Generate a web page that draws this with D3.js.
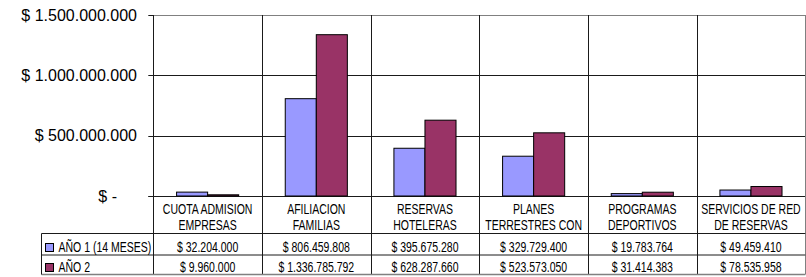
<!DOCTYPE html>
<html>
<head>
<meta charset="utf-8">
<script src="https://cdn.jsdelivr.net/npm/d3@7"></script>
<style>
	body{margin:0;background:#fff;}
	svg{display:block;font-family:"Liberation Sans",Arial,sans-serif;}
</style>
</head>
<body>
<svg id="chart" width="806" height="277"></svg>
<script>
//chart data
var categories = [
	["CUOTA ADMISION", "EMPRESAS"],
	["AFILIACION", "FAMILIAS"],
	["RESERVAS", "HOTELERAS"],
	["PLANES", "TERRESTRES CON"],
	["PROGRAMAS", "DEPORTIVOS"],
	["SERVICIOS DE RED", "DE RESERVAS"]
];
var seriesNames = ["AÑO 1 (14 MESES)", "AÑO 2"];
var ano1 = [32204000, 806459808, 395675280, 329729400, 19783764, 49459410];
var ano2 = [9960000, 1336785792, 628287660, 523573050, 31414383, 78535958];
var yTicks = [0, 500000000, 1000000000, 1500000000];
var colors = ["#9999ff", "#993366"];

(function(){
	var svg = d3.select("#chart");
	var series = [ano1, ano2];

	//layout of plot and table
	var left = 153.3, right = 805.3, top = 15, base = 196;
	var rowLabel = 233.5, rowA = 255, rowB = 274.5, legendLeft = 41.5;

	//money format with dot separators
	var loc = d3.formatLocale({decimal: ",", thousands: ".", grouping: [3], currency: ["$ ", ""]});
	var money = loc.format("$,.0f");
	function fmt(v){ return v === 0 ? "$ -" : money(v); }

	var x = d3.scaleBand().domain(d3.range(categories.length)).range([left, right]);
	var x1 = d3.scaleBand().domain(d3.range(series.length)).range([0, x.bandwidth()])
		.paddingInner(0).paddingOuter(0.75);
	var y = d3.scaleLinear().domain([0, 1500000000]).range([base, top]);

	function px(v){ return Math.round(v) + 0.5; }

	//horizontal gridlines
	svg.append("g").selectAll("line").data(yTicks.slice(0, -1)).join("line")
		.attr("x1", left - 5).attr("x2", right)
		.attr("y1", function(d){ return px(y(d)); }).attr("y2", function(d){ return px(y(d)); })
		.attr("stroke", "#1a1a1a");

	//top border of plot
	svg.append("line").attr("x1", left).attr("x2", right)
		.attr("y1", px(y(1500000000))).attr("y2", px(y(1500000000)))
		.attr("stroke", "#808080");
	svg.append("line").attr("x1", left - 5).attr("x2", left)
		.attr("y1", px(y(1500000000))).attr("y2", px(y(1500000000)))
		.attr("stroke", "#1a1a1a");

	//y axis labels
	svg.append("g").selectAll("text").data(yTicks).join("text")
		.attr("x", function(d){ return d === 0 ? 117 : 137; })
		.attr("y", function(d){ return y(d); })
		.attr("dy", "0.36em")
		.attr("text-anchor", "end")
		.attr("font-size", "16px")
		.attr("fill", "#000")
		.text(fmt);

	//bars
	var groups = svg.append("g").selectAll("g").data(categories).join("g")
		.attr("transform", function(d, i){ return "translate(" + x(i) + ",0)"; });
	groups.selectAll("rect")
		.data(function(d, i){ return series.map(function(s, k){ return {k: k, v: s[i]}; }); })
		.join("rect")
		.attr("x", function(d){ return x1(d.k); })
		.attr("width", x1.bandwidth())
		.attr("y", function(d){ return y(d.v); })
		.attr("height", function(d){ return base - y(d.v); })
		.attr("fill", function(d){ return colors[d.k]; })
		.attr("stroke", "#000").attr("stroke-width", 1);

	//vertical separators through plot and table
	var seps = d3.range(categories.length + 1).map(function(i){
		return i < categories.length ? x(i) : right;
	});
	svg.append("g").selectAll("line").data(seps).join("line")
		.attr("x1", function(d){ return px(d); }).attr("x2", function(d){ return px(d); })
		.attr("y1", top).attr("y2", function(d, i){ return i === 0 ? rowB : rowB; })
		.attr("stroke", function(d, i){ return i === seps.length - 1 ? "#808080" : "#1a1a1a"; });
	svg.append("line").attr("x1", px(left) - 5).attr("x2", px(left))
		.attr("y1", px(base)).attr("y2", px(base)).attr("stroke", "#1a1a1a");

	//table rows
	svg.append("line").attr("x1", legendLeft).attr("x2", right)
		.attr("y1", rowLabel).attr("y2", rowLabel).attr("stroke", "#1a1a1a");
	svg.append("line").attr("x1", legendLeft).attr("x2", right)
		.attr("y1", rowA).attr("y2", rowA).attr("stroke", "#1a1a1a");
	svg.append("line").attr("x1", legendLeft).attr("x2", right)
		.attr("y1", rowB).attr("y2", rowB).attr("stroke", "#808080").attr("stroke-width", 1.5);
	svg.append("line").attr("x1", legendLeft).attr("x2", legendLeft)
		.attr("y1", rowLabel).attr("y2", rowB).attr("stroke", "#1a1a1a");

	//condensed table text
	function tableText(g, tx, ty, str, anchor){
		g.append("text")
			.attr("transform", "translate(" + tx + "," + ty + ") scale(0.75,1)")
			.attr("text-anchor", anchor || "middle")
			.attr("dy", "0.36em")
			.attr("font-size", "14px")
			.attr("fill", "#000")
			.text(str);
	}
	var tbl = svg.append("g");
	categories.forEach(function(c, i){
		var cx = x(i) + x.bandwidth() / 2;
		tableText(tbl, cx, 208.5, c[0]);
		tableText(tbl, cx, 224.5, c[1]);
		tableText(tbl, cx, 246.5, fmt(ano1[i]));
		tableText(tbl, cx, 266.5, fmt(ano2[i]));
	});

	//legend keys
	var rowsY = [246.5, 266.5];
	seriesNames.forEach(function(name, k){
		tbl.append("rect")
			.attr("x", 45.5).attr("y", Math.round(rowsY[k] - 4) + 0.5)
			.attr("width", 8).attr("height", 8)
			.attr("fill", colors[k]).attr("stroke", "#000");
		tableText(tbl, 58.5, rowsY[k], name, "start");
	});
})();
</script>
</body>
</html>
